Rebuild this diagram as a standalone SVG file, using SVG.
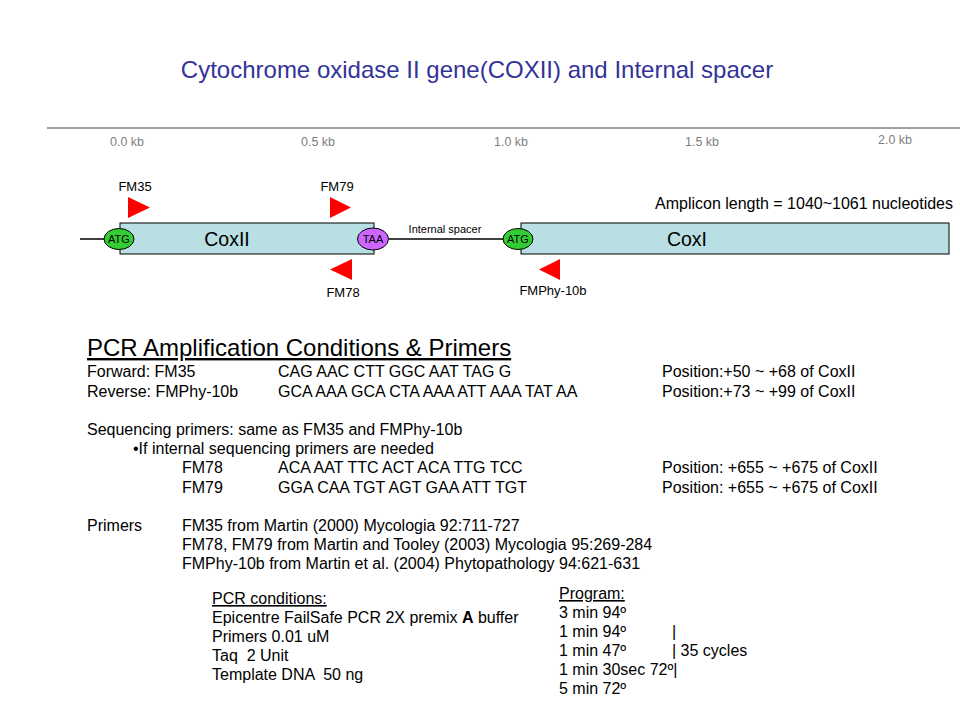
<svg xmlns="http://www.w3.org/2000/svg" width="960" height="720" viewBox="0 0 960 720">
<style>
text{font-family:"Liberation Sans",Arial,sans-serif;fill:#000}
.t{font-size:16px}
.r{font-size:12.5px;fill:#808080;text-anchor:middle}
.lab{font-size:13px;text-anchor:middle}
.gene{fill:#b8dfe3;stroke:#000;stroke-width:1}
.atg{fill:#33cc33;stroke:#000;stroke-width:1}
.taa{fill:#cc66ff;stroke:#000;stroke-width:1}
.codon{font-size:11px;text-anchor:middle}
.tri{fill:#ff0000}
.ln{stroke:#000;stroke-width:1.3;fill:none}
</style>
<rect width="960" height="720" fill="#fff"/>
<text x="477" y="78" style="font-size:24px;fill:#333399" text-anchor="middle">Cytochrome oxidase II gene(COXII) and Internal spacer</text>
<g id="ruler">
<line x1="47" y1="128" x2="960" y2="128" stroke="#808080" stroke-width="1.5"/>
<text class="r" x="127" y="146">0.0 kb</text>
<text class="r" x="318" y="146">0.5 kb</text>
<text class="r" x="511" y="146">1.0 kb</text>
<text class="r" x="702" y="146">1.5 kb</text>
<text class="r" x="895" y="144">2.0 kb</text>
</g>
<g id="connectors">
<line class="ln" x1="80" y1="239" x2="120" y2="239"/>
<line class="ln" x1="389" y1="239" x2="507" y2="239"/>
</g>
<g id="coxII">
<rect class="gene" x="120" y="223" width="254" height="31"/>
<text x="227" y="246" style="font-size:19.5px" text-anchor="middle">CoxII</text>
</g>
<g id="coxI">
<rect class="gene" x="521" y="223" width="428" height="31"/>
<text x="687" y="246" style="font-size:19.5px" text-anchor="middle">CoxI</text>
</g>
<g id="atg1"><ellipse class="atg" cx="119" cy="239" rx="15" ry="10.5"/><text class="codon" x="119" y="243">ATG</text></g>
<g id="taa"><ellipse class="taa" cx="373" cy="239" rx="15.5" ry="11"/><text class="codon" x="373" y="243">TAA</text></g>
<g id="atg2"><ellipse class="atg" cx="518" cy="239" rx="15" ry="10.5"/><text class="codon" x="518" y="243">ATG</text></g>
<text x="445" y="233" style="font-size:11px" text-anchor="middle">Internal spacer</text>
<g id="fm35"><polygon class="tri" points="128,197 150,207.5 128,218"/><text class="lab" x="135" y="191">FM35</text></g>
<g id="fm79"><polygon class="tri" points="330,197 351,207.5 330,218"/><text class="lab" x="337" y="191">FM79</text></g>
<g id="fm78"><polygon class="tri" points="352,259 330,269.5 352,280"/><text class="lab" x="343" y="297">FM78</text></g>
<g id="fmphy"><polygon class="tri" points="560,259 539,269.5 560,280"/><text class="lab" x="553" y="295">FMPhy-10b</text></g>
<text x="655" y="209" style="font-size:16px">Amplicon length = 1040~1061 nucleotides</text>

<text x="87" y="356" style="font-size:24px" text-decoration="underline">PCR Amplification Conditions &amp; Primers</text>
<text class="t" x="87" y="377">Forward: FM35</text>
<text class="t" x="278" y="377">CAG AAC CTT GGC AAT TAG G</text>
<text class="t" x="662" y="377">Position:+50 ~ +68 of CoxII</text>
<text class="t" x="87" y="397">Reverse: FMPhy-10b</text>
<text class="t" x="278" y="397">GCA AAA GCA CTA AAA ATT AAA TAT AA</text>
<text class="t" x="662" y="397">Position:+73 ~ +99 of CoxII</text>
<text class="t" x="87" y="435">Sequencing primers: same as FM35 and FMPhy-10b</text>
<text class="t" x="133" y="454">•If internal sequencing primers are needed</text>
<text class="t" x="182" y="473">FM78</text>
<text class="t" x="278" y="473">ACA AAT TTC ACT ACA TTG TCC</text>
<text class="t" x="662" y="473">Position: +655 ~ +675 of CoxII</text>
<text class="t" x="182" y="493">FM79</text>
<text class="t" x="278" y="493">GGA CAA TGT AGT GAA ATT TGT</text>
<text class="t" x="662" y="493">Position: +655 ~ +675 of CoxII</text>
<text class="t" x="87" y="531">Primers</text>
<text class="t" x="182" y="531">FM35 from Martin (2000) Mycologia 92:711-727</text>
<text class="t" x="182" y="550">FM78, FM79 from Martin and Tooley (2003) Mycologia 95:269-284</text>
<text class="t" x="182" y="569">FMPhy-10b from Martin et al. (2004) Phytopathology 94:621-631</text>
<text class="t" x="212" y="604" text-decoration="underline">PCR conditions:</text>
<text class="t" x="212" y="623">Epicentre FailSafe PCR 2X premix <tspan font-weight="bold">A</tspan> buffer</text>
<text class="t" x="212" y="642">Primers 0.01 uM</text>
<text class="t" x="212" y="661" xml:space="preserve">Taq  2 Unit</text>
<text class="t" x="212" y="680" xml:space="preserve">Template DNA  50 ng</text>
<text class="t" x="559" y="599" text-decoration="underline">Program:</text>
<text class="t" x="559" y="618">3 min 94º</text>
<text class="t" x="559" y="637">1 min 94º</text>
<text class="t" x="672" y="637">|</text>
<text class="t" x="559" y="656">1 min 47º</text>
<text class="t" x="672" y="656">| 35 cycles</text>
<text class="t" x="559" y="675">1 min 30sec 72º|</text>
<text class="t" x="559" y="694">5 min 72º</text>
</svg>
